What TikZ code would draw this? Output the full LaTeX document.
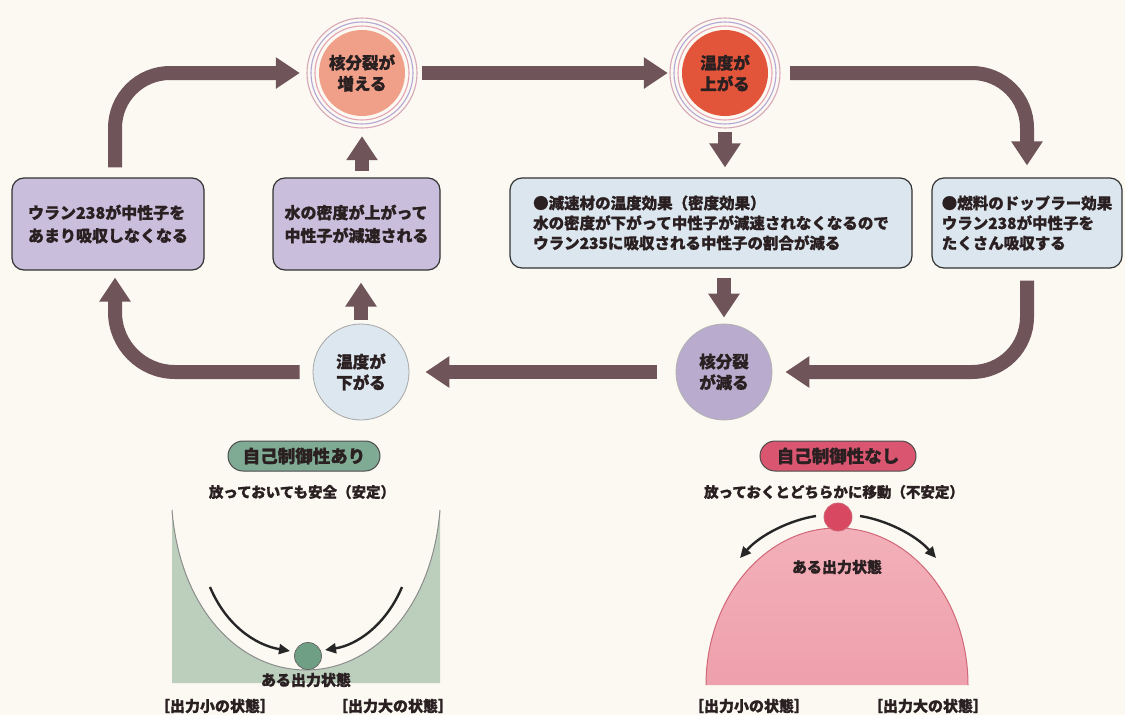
\documentclass[tikz,border=0pt]{standalone}
\usepackage{fontspec}
\setmainfont{Noto Sans CJK JP}[BoldFeatures={FakeBold=1}]
\usetikzlibrary{arrows.meta,shapes.geometric}
\definecolor{bg}{HTML}{FBF9F2}
\definecolor{arr}{HTML}{6F5459}
\definecolor{txt}{HTML}{2A2022}
\definecolor{lav}{HTML}{C9BEDB}
\definecolor{lblue}{HTML}{DCE6EE}
\definecolor{salmon}{HTML}{F0A088}
\definecolor{redor}{HTML}{E2553A}
\definecolor{cblue}{HTML}{DDE7EF}
\definecolor{clav}{HTML}{B9ABCD}
\definecolor{ringa}{HTML}{E4A2B2}
\definecolor{ringb}{HTML}{B4A6D6}
\definecolor{ringc}{HTML}{D8A8B8}
\definecolor{valley}{HTML}{BCCFBD}
\definecolor{pillg}{HTML}{7FAA94}
\definecolor{pillr}{HTML}{DA5670}
\definecolor{domet}{HTML}{F3B0B9}
\definecolor{domeb}{HTML}{EEA0AC}
\definecolor{domel}{HTML}{D06878}
\definecolor{ballg}{HTML}{6FA085}
\definecolor{ballr}{HTML}{D84860}
\tikzset{
  bigarrow/.style={draw=arr, line width=14pt, -{Triangle[width=30pt,length=24pt]}},
  thinarrow/.style={draw=black!85, line width=2.4pt, -{Triangle[width=10pt,length=11pt]}},
  ctext/.style={circle, inner sep=0pt, text=txt, align=center, font=\fontsize{16.5}{21}\selectfont\bfseries},
  boxa/.style={draw=black!80, line width=1.2pt, rounded corners=12pt, fill=lav, text=txt, align=left, inner sep=0pt, font=\fontsize{16}{23}\selectfont\bfseries},
  boxc/.style={draw=black!80, line width=1.2pt, rounded corners=12pt, fill=lblue, text=txt, align=left, inner sep=0pt, font=\fontsize{15.5}{20}\selectfont\bfseries},
  pill/.style={draw=black!70, line width=1pt, rounded corners=15pt, minimum height=30pt, minimum width=152pt, inner sep=0pt, text=txt, font=\fontsize{17.5}{19}\selectfont\bfseries},
  ltext/.style={text=txt, inner sep=0pt, font=\fontsize{14.5}{16}\selectfont\bfseries},
  stext/.style={text=txt, inner sep=0pt, font=\fontsize{15}{16}\selectfont\bfseries},
}
\begin{document}
\begin{tikzpicture}[x=1pt,y=-1pt]
\useasboundingbox (0,0) rectangle (1125,715);
\fill[bg] (0,0) rectangle (1125,715);

% circles
\foreach \c/\r/\col in {1/47/ringa,2/51/ringb,3/55/ringc}{
  \draw[\col, line width=1.1pt] (362,73) circle[radius=\r];
  \draw[\col, line width=1.1pt] (725,73) circle[radius=\r];
}
\node[ctext, fill=salmon, minimum size=86pt] (c1) at (362,73) {核分裂が\\増える};
\node[ctext, fill=redor, minimum size=86pt] (c2) at (725,73) {温度が\\上がる};
\node[ctext, fill=cblue, draw=black!35, line width=0.8pt, minimum size=96pt] (c3) at (361,372) {温度が\\下がる};
\node[ctext, fill=clav, draw=black!30, line width=0.8pt, minimum size=96pt] (c4) at (724,372) {核分裂\\が減る};

% boxes
\node[boxa, minimum width=192pt, minimum height=92pt] (bA) at (108,224) {ウラン238が中性子を\\あまり吸収しなくなる};
\node[boxa, minimum width=167pt, minimum height=92pt] (bB) at (356.5,224) {水の密度が上がって\\中性子が減速される};
\node[boxc, minimum width=402pt, minimum height=90pt] (bC) at (711,223) {●減速材の温度効果（密度効果）\\水の密度が下がって中性子が減速されなくなるので\\ウラン235に吸収される中性子の割合が減る};
\node[boxc, minimum width=190pt, minimum height=90pt] (bD) at (1027,223) {●燃料のドップラー効果\\ウラン238が中性子を\\たくさん吸収する};

% big arrows
\draw[bigarrow, rounded corners=55pt, shorten <=10pt, shorten >=19pt] ([xshift=7pt]bA.north) |- (c1.west);
\draw[bigarrow, shorten <=17pt, shorten >=14pt] (c1.east) -- (c2.west);
\draw[bigarrow, rounded corners=55pt, shorten <=22pt, shorten >=12pt] (c2.east) -| (bD.north);
\draw[bigarrow, shorten <=16pt, shorten >=10pt] (c2.south) -- (c2.south |- bC.north);
\draw[bigarrow, shorten <=9pt, shorten >=6pt] (c4.north |- bC.south) -- (c4.north);
\draw[bigarrow, rounded corners=55pt, shorten <=12pt, shorten >=13pt] (bD.south) |- (c4.east);
\draw[bigarrow, shorten <=19pt, shorten >=16pt] (c4.west) -- (c3.east);
\draw[bigarrow, rounded corners=60pt, shorten <=13pt, shorten >=7pt] (c3.west) -| ([xshift=7pt]bA.south);
\draw[bigarrow, shorten <=4pt, shorten >=12pt] (c3.north) -- (c3.north |- bB.south);
\draw[bigarrow, shorten <=6pt, shorten >=20pt] (c1.south |- bB.north) -- (c1.south);

% left: stable
\node[pill, fill=pillg] (p1) at (304,456) {自己制御性あり};
\node[ltext] (s1) at (302,492) {放っておいても安全（安定）};
\fill[valley] (172,510) .. controls (180,610) and (240,670) .. (306,670) .. controls (372,670) and (432,610) .. (440,510) -- (440,683) -- (172,683) -- cycle;
\draw[black!45, line width=1pt] (172,510) .. controls (180,610) and (240,670) .. (306,670) .. controls (372,670) and (432,610) .. (440,510);
\node[circle, fill=ballg, draw=black!60, line width=0.8pt, minimum size=27pt, inner sep=0pt] (b1) at (308,656) {};
\draw[thinarrow] (210,587) .. controls (226,625) and (255,645) .. (290,651);
\draw[thinarrow] (402,587) .. controls (386,625) and (357,645) .. (325,650);
\node[stext] (o1) at (306,680) {ある出力状態};
\node[stext] (l1) at (215,706) {［出力小の状態］};
\node[stext] (r1) at (393,706) {［出力大の状態］};

% right: unstable
\node[pill, fill=pillr, minimum width=156pt] (p2) at (838,456) {自己制御性なし};
\node[ltext] (s2) at (834,492) {放っておくとどちらかに移動（不安定）};
\shade[top color=domet, bottom color=domeb] (706,685) arc[start angle=180,end angle=360,x radius=131,y radius=157] -- cycle;
\draw[domel, line width=1pt] (706,685) arc[start angle=180,end angle=360,x radius=131,y radius=157];
\node[circle, fill=ballr, draw=domel, line width=0.8pt, minimum size=28pt, inner sep=0pt] (b2) at (838,517) {};
\draw[thinarrow] (816,516) .. controls (790,520) and (760,535) .. (740,558);
\draw[thinarrow] (860,516) .. controls (886,520) and (916,535) .. (936,558);
\node[stext] (o2) at (837,567) {ある出力状態};
\node[stext] (l2) at (749,706) {［出力小の状態］};
\node[stext] (r2) at (928,706) {［出力大の状態］};
\end{tikzpicture}
\end{document}
